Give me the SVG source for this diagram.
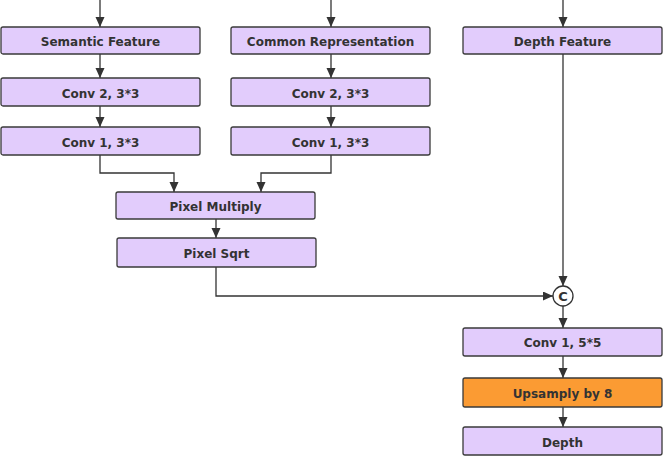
<svg xmlns="http://www.w3.org/2000/svg" width="664" height="457" viewBox="0 0 664 457">
<defs>
<marker id="ah" markerWidth="11" markerHeight="10" refX="10" refY="4.5" orient="auto" markerUnits="userSpaceOnUse">
<path d="M0,0 L10,4.5 L0,9 Z" fill="#333"/>
</marker>
<style>
.box{fill:#e2ccfc;stroke:#3a3a3a;stroke-width:1.3}
.org{fill:#fb9b33;stroke:#3a3a3a;stroke-width:1.3}
.t{font-family:"DejaVu Sans",sans-serif;font-weight:bold;font-size:12px;fill:#333;text-anchor:middle;dominant-baseline:central}
.c{fill:none;stroke:#333;stroke-width:1.3}
</style>
</defs>
<rect width="664" height="457" fill="#fff"/>
<g id="connectors">
<path class="c" d="M100,0 V27" marker-end="url(#ah)"/>
<path class="c" d="M331,0 V27" marker-end="url(#ah)"/>
<path class="c" d="M563,0 V27" marker-end="url(#ah)"/>
<path class="c" d="M100,54 V78" marker-end="url(#ah)"/>
<path class="c" d="M331,54 V78" marker-end="url(#ah)"/>
<path class="c" d="M100,106 V127" marker-end="url(#ah)"/>
<path class="c" d="M331,106 V127" marker-end="url(#ah)"/>
<path class="c" d="M100,155 V173 H174 V192" marker-end="url(#ah)"/>
<path class="c" d="M331,155 V173 H261 V192" marker-end="url(#ah)"/>
<path class="c" d="M216,219 V238" marker-end="url(#ah)"/>
<path class="c" d="M216,267 V296 H553" marker-end="url(#ah)"/>
<path class="c" d="M563,54 V286" marker-end="url(#ah)"/>
<path class="c" d="M563,306 V328" marker-end="url(#ah)"/>
<path class="c" d="M563,356 V378" marker-end="url(#ah)"/>
<path class="c" d="M563,407 V427" marker-end="url(#ah)"/>
</g>
<g id="semantic"><rect class="box" x="1" y="27" width="199" height="27" rx="2"/><text class="t" x="100.5" y="42">Semantic Feature</text></g>
<g id="sem-conv2"><rect class="box" x="1" y="78" width="199" height="28" rx="2"/><text class="t" x="100.5" y="93.5">Conv 2, 3*3</text></g>
<g id="sem-conv1"><rect class="box" x="1" y="127" width="199" height="28" rx="2"/><text class="t" x="100.5" y="142.5">Conv 1, 3*3</text></g>
<g id="common"><rect class="box" x="231" y="27" width="199" height="27" rx="2"/><text class="t" x="330.5" y="42">Common Representation</text></g>
<g id="com-conv2"><rect class="box" x="231" y="78" width="199" height="28" rx="2"/><text class="t" x="330.5" y="93.5">Conv 2, 3*3</text></g>
<g id="com-conv1"><rect class="box" x="231" y="127" width="199" height="28" rx="2"/><text class="t" x="330.5" y="142.5">Conv 1, 3*3</text></g>
<g id="depthfeat"><rect class="box" x="463" y="27" width="199" height="27" rx="2"/><text class="t" x="562.5" y="42">Depth Feature</text></g>
<g id="pixmul"><rect class="box" x="116" y="192" width="199" height="27" rx="2"/><text class="t" x="215.5" y="207">Pixel Multiply</text></g>
<g id="pixsqrt"><rect class="box" x="117" y="238" width="199" height="29" rx="2"/><text class="t" x="216.5" y="253.5">Pixel Sqrt</text></g>
<g id="concat"><circle cx="563" cy="296" r="10" fill="#fff" stroke="#333" stroke-width="1.3"/><text class="t" x="563" y="296.5" style="font-size:13px">C</text></g>
<g id="conv15"><rect class="box" x="463" y="328" width="199" height="28" rx="2"/><text class="t" x="562.5" y="343">Conv 1, 5*5</text></g>
<g id="ups"><rect class="org" x="463" y="378" width="199" height="29" rx="2"/><text class="t" x="562.5" y="393.5">Upsamply by 8</text></g>
<g id="depth"><rect class="box" x="463" y="427" width="199" height="28" rx="2"/><text class="t" x="562.5" y="442.5">Depth</text></g>
</svg>
